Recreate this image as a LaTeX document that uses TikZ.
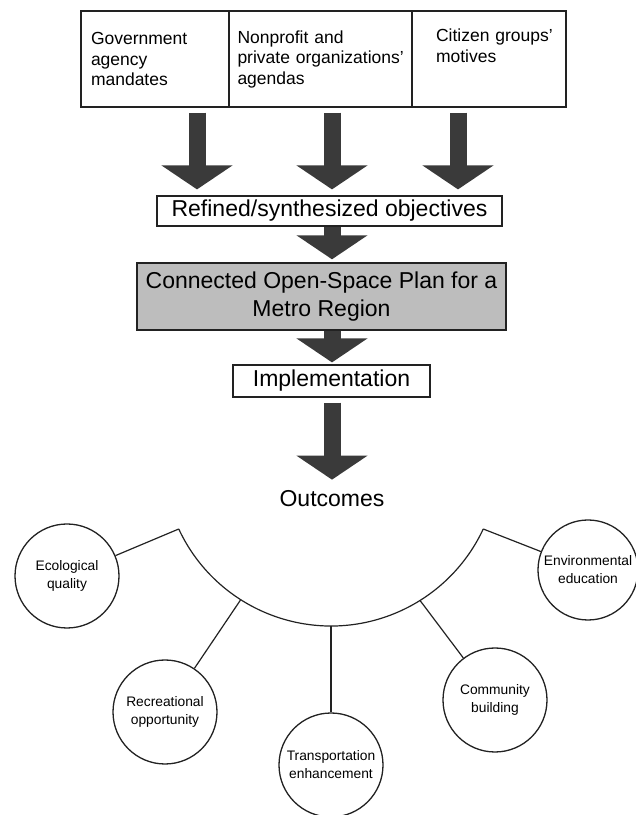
\documentclass[tikz,border=0pt]{standalone}
\usepackage{fontspec}
\setmainfont{Liberation Sans}
\usepackage{tikz}
\usetikzlibrary{arrows.meta, positioning}
\definecolor{arrowgray}{HTML}{3A3A3A}
\definecolor{plangray}{HTML}{BDBDBD}
\definecolor{inkblack}{HTML}{222222}
\newcommand{\srcfont}{\fontsize{17.5}{20.5}\selectfont}
\newcommand{\stagefont}{\fontsize{23}{28}\selectfont}
\newcommand{\outfont}{\fontsize{13.8}{18}\selectfont}
\tikzset{
  % Source boxes (top row)
  sourcebox/.style={
    rectangle, draw=inkblack, line width=1.2pt, font=\srcfont,
    align=left, minimum height=96pt, inner ysep=2pt,
  },
  % Process stages
  stagebox/.style={
    rectangle, draw=inkblack, line width=1.2pt, font=\stagefont,
    align=center, inner sep=1pt,
  },
  planbox/.style={stagebox, fill=plangray, line width=1.4pt},
  % Outcome circles
  outcome/.style={
    circle, draw=inkblack, line width=1.3pt, font=\outfont,
    align=center, minimum size=104pt, inner sep=0pt,
  },
  % Arrows and spokes
  blockarrow/.style={-{Triangle[width=70pt,length=24pt]}, line width=17pt,
    draw=arrowgray, line cap=butt},
  spoke/.style={draw=inkblack, line width=1.2pt},
}

\begin{document}
\begin{tikzpicture}[x=1pt, y=1pt]
  \useasboundingbox (0,0) rectangle (636,815);

  % Top row
  \node[sourcebox, minimum width=148pt, text width=128pt, inner xsep=10pt] (gov) at (155,756)
    {\mbox{Government}\\agency\\mandates};
  \node[sourcebox, minimum width=183pt, text width=166pt, inner xsep=8.5pt] (npo) at (320.5,756)
    {\mbox{Nonprofit and}\\\mbox{private organizations'}\\agendas};
  \node[sourcebox, minimum width=154pt, text width=106pt] (cit) at (489,756)
    {\mbox{Citizen groups'}\\motives\\\strut};

  % Main column
  \coordinate (spine) at (332,0);
  \node[stagebox, minimum width=345pt, minimum height=30pt] (refined) at (329.5,604)
    {Refined/synthesized objectives};
  \node[planbox, minimum width=369pt, minimum height=67pt] (plan) at (321.5,518.5)
    {Connected Open-Space Plan for a\\Metro Region};
  \node[stagebox, minimum width=197pt, minimum height=32pt] (impl) at (331.5,434)
    {Implementation};
  \node[font=\stagefont, inner sep=0pt] (outcomes) at (332,316) {Outcomes};

  % Arrows
  \draw[blockarrow, shorten <=5pt, shorten >=6pt] ([xshift=42pt]gov.south) -- ([xshift=42pt]gov.south |- refined.north);
  \draw[blockarrow, shorten <=5pt, shorten >=6pt] (npo.south -| spine) -- (refined.north -| spine);
  \draw[blockarrow, shorten <=5pt, shorten >=6pt] ([xshift=-31pt]cit.south) -- ([xshift=-31pt]cit.south |- refined.north);
  \draw[blockarrow, shorten >=3pt] (refined.south -| spine) -- (plan.north -| spine);
  \draw[blockarrow, shorten >=2pt] (plan.south -| spine) -- (impl.north -| spine);
  \draw[blockarrow, shorten <=5pt, shorten >=11pt] (impl.south -| spine) -- (outcomes.north -| spine);

  % Outcome arc
  \coordinate (hub) at (331,357);
  \coordinate (jeco) at ([shift={(205:168)}]hub);
  \coordinate (jrec) at ([shift={(237.5:168)}]hub);
  \coordinate (jtra) at ([shift={(270:168)}]hub);
  \coordinate (jcom) at ([shift={(302:168)}]hub);
  \coordinate (jenv) at ([shift={(335:168)}]hub);
  \draw[spoke] (jeco) arc[start angle=205, end angle=335, radius=168];

  % Outcomes
  \node[outcome] (eco) at (67,239) {Ecological\\quality};
  \node[outcome] (rec) at (165,103) {Recreational\\opportunity};
  \node[outcome] (tra) at (331,50) {Transportation\\enhancement};
  \node[outcome] (com) at (495,115) {Community\\building};
  \node[outcome, minimum size=100pt] (env) at (588,245) {Environmental\\education};

  \draw[spoke] (jeco) -- (eco);
  \draw[spoke] (jrec) -- (rec);
  \draw[spoke] (jtra) -- (tra);
  \draw[spoke] (jcom) -- (com);
  \draw[spoke] (jenv) -- (env);

\end{tikzpicture}
\end{document}
